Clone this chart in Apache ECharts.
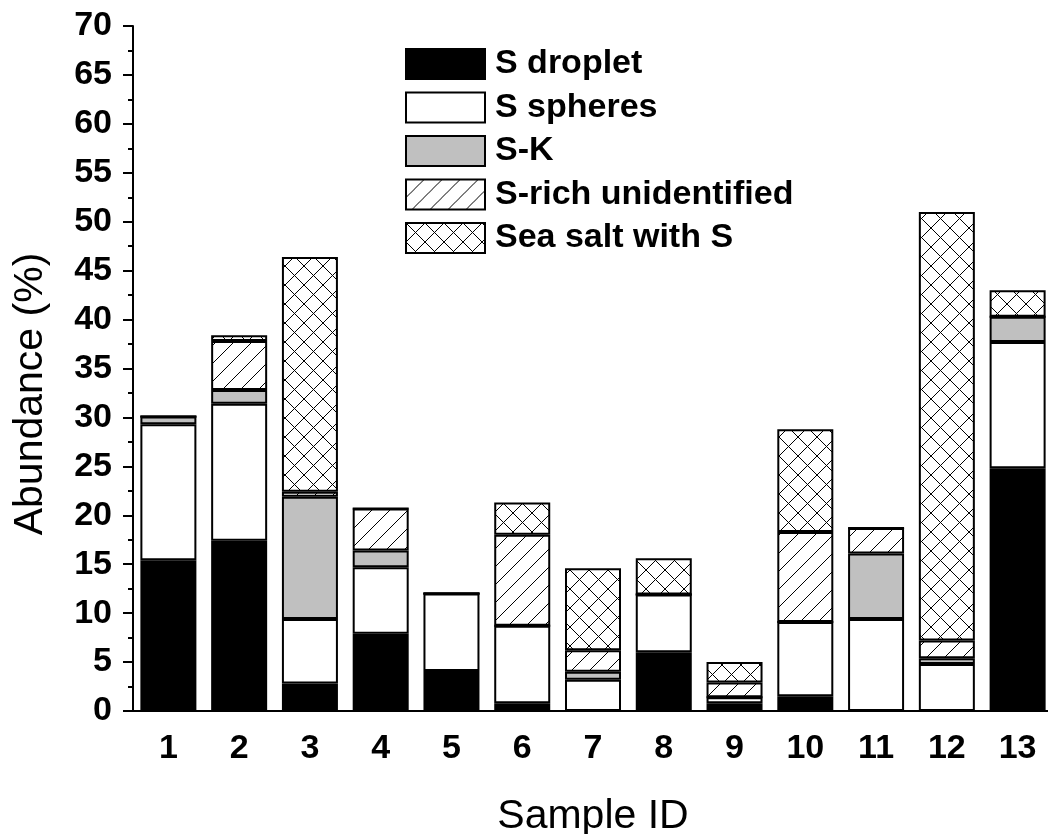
<!DOCTYPE html>
<html>
<head>
<meta charset="utf-8">
<script src="https://cdn.jsdelivr.net/npm/echarts@6/dist/echarts.min.js"></script>
<style>
	html,body{margin:0;padding:0;background:#fff;}
	#chart{width:1048px;height:834px;}
</style>
</head>
<body>
<div id="chart"></div>
<script>
var categories = ['1','2','3','4','5','6','7','8','9','10','11','12','13']
var droplet = [15.4, 17.4, 2.8, 7.9, 4.1, 0.8, 0, 6.0, 0.8, 1.5, 0, 0, 24.8]
var spheres = [13.9, 14.0, 6.6, 6.8, 7.9, 7.9, 3.2, 5.9, 0.6, 7.6, 9.4, 4.8, 12.9]
var sk = [0.8, 1.4, 12.5, 1.7, 0, 0, 0.8, 0, 0, 0, 6.7, 0.6, 2.6]
var unidentified = [0, 5.0, 0.5, 4.3, 0, 9.3, 2.2, 0, 1.5, 9.2, 2.6, 1.8, 0]
var seaSalt = [0, 0.6, 24.0, 0, 0, 3.3, 8.4, 3.7, 2.1, 10.5, 0, 43.8, 2.7]

var font = 'Liberation Sans, Arial, sans-serif'

//hatch tiles
function makeTile(size, slash, back){
	var c = document.createElement('canvas')
	c.width = size
	c.height = size
	var ctx = c.getContext('2d')
	ctx.fillStyle = '#fff'
	ctx.fillRect(0, 0, size, size)
	ctx.strokeStyle = '#000'
	ctx.lineWidth = 1
	for(var k=-1;k<=1;k++){
		if(slash){
			ctx.beginPath()
			ctx.moveTo(-2, size*(1+k)+2)
			ctx.lineTo(size+2, size*k-2)
			ctx.stroke()
		}
		if(back){
			ctx.beginPath()
			ctx.moveTo(-2, size*k-2)
			ctx.lineTo(size+2, size*(1+k)+2)
			ctx.stroke()
		}
	}
	return c
}
var hatch = {image: makeTile(18, true, false), repeat: 'repeat'}
var cross = {image: makeTile(19, true, true), repeat: 'repeat'}

function bar(name, data, color){
	return {
		name: name,
		type: 'bar',
		stack: 'all',
		barWidth: 56,
		data: data,
		itemStyle: {color: color, borderColor: '#000', borderWidth: 2},
		emphasis: {disabled: true}
	}
}

var chart = echarts.init(document.getElementById('chart'))
var option = {
	backgroundColor: '#fff',
	animation: false,
	grid: {left: 133, right: -5, top: 26, bottom: 123, outerBoundsMode: 'none'},
	legend: {
		orient: 'vertical',
		left: 405,
		top: 47,
		padding: 0,
		itemWidth: 79,
		itemHeight: 30,
		itemGap: 9.5,
		icon: 'rect',
		textStyle: {fontFamily: font, fontWeight: 'bold', fontSize: 34, color: '#000', padding: [0, 0, 0, 5]},
		data: ['S droplet', 'S spheres', 'S-K', 'S-rich unidentified', 'Sea salt with S']
	},
	xAxis: [
		{
			type: 'category',
			position: 'bottom',
			data: categories,
			name: 'Sample ID',
			nameLocation: 'middle',
			nameGap: 85,
			nameTextStyle: {fontFamily: font, fontSize: 41, color: '#000'},
			axisLine: {lineStyle: {color: '#000', width: 2}},
			axisTick: {alignWithLabel: true, length: 13, lineStyle: {color: '#000', width: 2}},
			axisLabel: {fontFamily: font, fontWeight: 'bold', fontSize: 34, color: '#000', margin: 21}
		},
		{
			type: 'category',
			position: 'bottom',
			data: categories,
			axisLine: {show: false},
			axisTick: {length: 6, lineStyle: {color: '#000', width: 2}},
			axisLabel: {show: false}
		}
	],
	yAxis: {
		type: 'value',
		min: 0,
		max: 70,
		interval: 5,
		name: 'Abundance (%)',
		nameLocation: 'middle',
		nameGap: 82,
		nameTextStyle: {fontFamily: font, fontSize: 41, color: '#000', padding: [0, 51, 0, 0]},
		axisLine: {show: true, lineStyle: {color: '#000', width: 2}},
		axisTick: {show: true, length: 10, lineStyle: {color: '#000', width: 2}},
		minorTick: {show: true, splitNumber: 2, length: 5, lineStyle: {color: '#000', width: 2}},
		splitLine: {show: false},
		axisLabel: {fontFamily: font, fontWeight: 'bold', fontSize: 34, color: '#000', margin: 21}
	},
	series: [
		bar('S droplet', droplet, '#000'),
		bar('S spheres', spheres, '#fff'),
		bar('S-K', sk, '#c0c0c0'),
		bar('S-rich unidentified', unidentified, hatch),
		bar('Sea salt with S', seaSalt, cross)
	]
}
chart.setOption(option)
</script>
</body>
</html>
